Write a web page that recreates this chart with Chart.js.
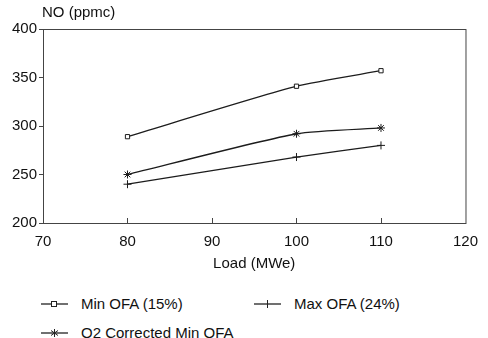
<!DOCTYPE html>
<html>
<head>
<meta charset="utf-8">
<script src="https://cdn.jsdelivr.net/npm/chart.js@4"></script>
<style>
  body { margin: 0; background: #fff; }
  #wrap { position: relative; width: 488px; height: 338px; font-family: "Liberation Sans", Arial, sans-serif; color: #111; }
  #box { position: absolute; left: 0; top: 0; width: 488px; height: 273px; }
  .lg { position: absolute; font-size: 15px; line-height: 18px; white-space: nowrap; }
  .lg svg { position: absolute; left: -40px; top: 3px; }
</style>
</head>
<body>
<div id="wrap">
  <div id="box"><canvas id="chart"></canvas></div>
</div>
<script>
let loads = [80, 100, 110];
let seriesNames = ["Min OFA (15%)", "Max OFA (24%)", "O2 Corrected Min OFA"];
let minOfa = [289, 341, 357];
let maxOfa = [240, 268, 280];
let o2Corrected = [250, 292, 298];
let xTicks = [70, 80, 90, 100, 110, 120];
let yTicks = [200, 250, 300, 350, 400];

let ink = "#1c1c1c";
let markers = ["rect", "cross", "star"];
let values = [minOfa, maxOfa, o2Corrected];

function points(arr) {
  return loads.map((x, i) => ({ x: x, y: arr[i] }));
}

let datasets = values.map((arr, i) => ({
  label: seriesNames[i],
  data: points(arr),
  borderColor: ink,
  borderWidth: 1.3,
  backgroundColor: "#fff",
  pointStyle: markers[i],
  pointRadius: i == 0 ? 3 : 4,
  pointBorderColor: ink,
  pointBorderWidth: 1,
  tension: 0.2,
  fill: false,
}));

// box around plot, inward ticks on x, y label on top
const frame = {
  id: "frame",
  afterDraw(chart) {
    const ctx = chart.ctx;
    const a = chart.chartArea;
    ctx.save();
    ctx.strokeStyle = "#444";
    ctx.lineWidth = 1;
    ctx.strokeRect(a.left + 0.5, a.top + 0.5, a.right - a.left, a.bottom - a.top);
    const xs = chart.scales.x;
    xTicks.slice(1, -1).forEach((v) => {
      const px = Math.round(xs.getPixelForValue(v)) + 0.5;
      ctx.beginPath();
      ctx.moveTo(px, a.bottom);
      ctx.lineTo(px, a.bottom - 5);
      ctx.stroke();
    });
    ctx.fillStyle = "#111";
    ctx.font = '15px "Liberation Sans", Arial, sans-serif';
    ctx.textAlign = "left";
    ctx.textBaseline = "middle";
    ctx.fillText("NO (ppmc)", a.left - 1, 13);
    ctx.restore();
  },
};

new Chart("chart", {
  type: "line",
  data: { datasets: datasets },
  plugins: [frame],
  options: {
    responsive: true,
    maintainAspectRatio: false,
    animation: false,
    layout: { padding: { top: 29, right: 20, left: 0, bottom: 0 } },
    plugins: { legend: { display: false }, tooltip: { enabled: false } },
    font: { family: '"Liberation Sans", Arial, sans-serif' },
    scales: {
      x: {
        type: "linear",
        min: 70,
        max: 120,
        afterBuildTicks: (s) => { s.ticks = xTicks.map((v) => ({ value: v })); },
        afterFit: (s) => { s.height = 50; },
        grid: { display: true, drawOnChartArea: false, drawTicks: false },
        border: { color: "#444", width: 1 },
        ticks: { color: "#111", padding: 10, maxRotation: 0, font: { size: 15, family: '"Liberation Sans", Arial, sans-serif' } },
        title: {
          display: true,
          text: "Load (MWe)",
          color: "#111",
          padding: { top: 0, bottom: 0 },
          font: { size: 15, family: '"Liberation Sans", Arial, sans-serif' },
        },
      },
      y: {
        min: 200,
        max: 400,
        afterBuildTicks: (s) => { s.ticks = yTicks.map((v) => ({ value: v })); },
        afterFit: (s) => { s.width = 43; },
        grid: { display: true, drawOnChartArea: false, drawTicks: true, tickLength: 4, color: "#444" },
        border: { color: "#444", width: 1 },
        ticks: { color: "#111", padding: 2, font: { size: 15, family: '"Liberation Sans", Arial, sans-serif' } },
      },
    },
  },
});

// legend as text below the chart
let legendPos = [
  { left: 81, top: 295 },
  { left: 294, top: 295 },
  { left: 81, top: 324 },
];
let icons = [
  '<line x1="0" y1="6" x2="27" y2="6" stroke="#222" stroke-width="1.3"/><rect x="10.5" y="3.5" width="5" height="5" fill="#fff" stroke="#222"/>',
  '<line x1="0" y1="6" x2="27" y2="6" stroke="#222" stroke-width="1.3"/><line x1="13.5" y1="2" x2="13.5" y2="10" stroke="#222"/>',
  '<line x1="0" y1="6" x2="27" y2="6" stroke="#222" stroke-width="1.3"/><path d="M13.5 2V10M10 3.5L17 8.5M17 3.5L10 8.5" stroke="#222"/>',
];
const wrap = document.getElementById("wrap");
seriesNames.forEach((name, i) => {
  const d = document.createElement("div");
  d.className = "lg";
  d.style.left = legendPos[i].left + "px";
  d.style.top = legendPos[i].top + "px";
  d.innerHTML = '<svg width="28" height="12">' + icons[i] + "</svg>" + name;
  wrap.appendChild(d);
});
</script>
</body>
</html>
